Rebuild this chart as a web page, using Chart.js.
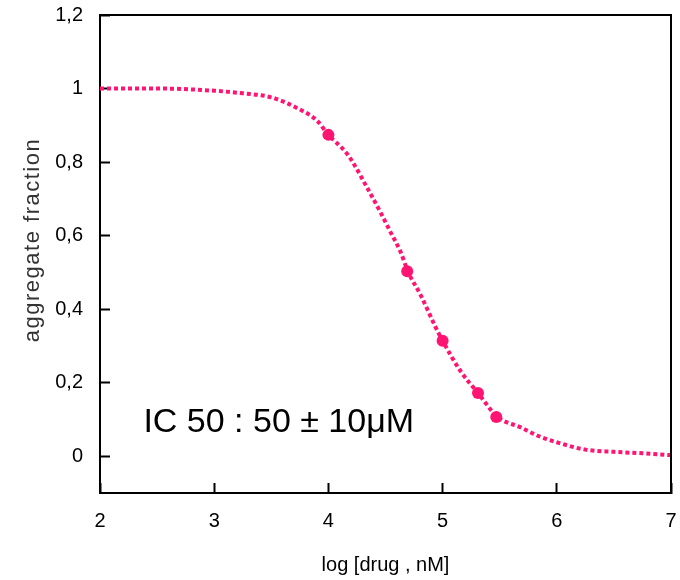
<!DOCTYPE html>
<html>
<head>
<meta charset="utf-8">
<script src="https://cdn.jsdelivr.net/npm/chart.js@4"></script>
<style>
  body { margin: 0; background: #fff; }
  #chart { display: block; }
</style>
</head>
<body>
<canvas id="chart" width="680" height="580"></canvas>
<script>
// fitted curve
const curveX = [2, 2.5, 3, 3.25, 3.5, 3.75, 3.9, 4, 4.17, 4.34, 4.46, 4.54, 4.63, 4.7, 4.81, 4.94, 5, 5.16, 5.31, 5.48, 5.68, 5.84, 6, 6.25, 6.5, 6.75, 7];
const curveY = [1, 1, 0.994, 0.987, 0.976, 0.943, 0.913, 0.874, 0.82, 0.73, 0.661, 0.612, 0.557, 0.5, 0.437, 0.35, 0.314, 0.23, 0.172, 0.107, 0.079, 0.055, 0.038, 0.018, 0.012, 0.008, 0.003];

// measured points
const pointX = [4, 4.69, 5, 5.31, 5.47];
const pointY = [0.874, 0.503, 0.314, 0.172, 0.107];

const xTicks = [2, 3, 4, 5, 6, 7];
const yTicks = [0, 0.2, 0.4, 0.6, 0.8, 1, 1.2];

const yTitle = 'aggregate fraction';
const icLabel = 'IC 50 : 50 \u00b1 10\u03bcM';
const icAt = { x: 2.38, y: 0.066 };

const pink = '#ff1472';
const font = '"Liberation Sans", Arial, sans-serif';

// the tick padding would otherwise push the plot inwards
function noScalePadding(scale) {
  scale.paddingTop = 0;
  scale.paddingBottom = 0;
  scale.paddingLeft = 0;
  scale.paddingRight = 0;
}

// box around the plot, y title and the IC50 note
const framePlugin = {
  id: 'frame',
  afterDraw(chart) {
    const { ctx, chartArea: a, scales } = chart;
    ctx.save();
    ctx.strokeStyle = '#000';
    ctx.lineWidth = 2;
    ctx.beginPath();
    ctx.moveTo(a.left, a.top);
    ctx.lineTo(a.right, a.top);
    ctx.lineTo(a.right, a.bottom);
    ctx.stroke();

    ctx.fillStyle = '#000';
    ctx.font = '34px ' + font;
    ctx.textAlign = 'left';
    ctx.textBaseline = 'alphabetic';
    ctx.fillText(icLabel, scales.x.getPixelForValue(icAt.x), scales.y.getPixelForValue(icAt.y));

    // y title, a bit stretched like the original
    ctx.translate(33, 240);
    ctx.rotate(-Math.PI / 2);
    ctx.fillStyle = '#333';
    ctx.font = '22px ' + font;
    ctx.letterSpacing = '1.5px';
    ctx.textAlign = 'center';
    ctx.textBaseline = 'middle';
    ctx.fillText(yTitle, 0, 0);
    ctx.restore();
  }
};

const ctx = document.getElementById('chart').getContext('2d');

const chart = new Chart(ctx, {
  type: 'scatter',
  data: {
    datasets: [
      {
        label: 'points',
        data: pointX.map((x, i) => ({ x: x, y: pointY[i] })),
        showLine: false,
        pointRadius: 6,
        pointBackgroundColor: pink,
        pointBorderColor: pink,
        pointBorderWidth: 0
      },
      {
        label: 'fit',
        data: curveX.map((x, i) => ({ x: x, y: curveY[i] })),
        showLine: true,
        pointRadius: 0,
        borderColor: pink,
        borderWidth: 4,
        borderDash: [4, 3],
        borderCapStyle: 'butt',
        cubicInterpolationMode: 'monotone',
        fill: false
      }
    ]
  },
  options: {
    responsive: false,
    animation: false,
    layout: {
      autoPadding: false,
      padding: { left: 0, right: 9, top: 15, bottom: 0 }
    },
    plugins: {
      legend: { display: false },
      tooltip: { enabled: false }
    },
    scales: {
      x: {
        type: 'linear',
        position: 'bottom',
        min: 2,
        max: 7,
        afterBuildTicks: (scale) => { scale.ticks = xTicks.map(v => ({ value: v })); },
        afterFit: (scale) => { scale.height = 87; noScalePadding(scale); },
        ticks: {
          color: '#000',
          padding: 26,
          maxRotation: 0,
          font: { size: 20, family: font }
        },
        grid: {
          drawOnChartArea: false,
          drawTicks: true,
          tickLength: -10,
          tickColor: '#000',
          tickWidth: 2
        },
        border: { color: '#000', width: 2 },
        title: {
          display: true,
          text: 'log [drug , nM]',
          color: '#000',
          padding: { top: 0, bottom: 3 },
          font: { size: 20, family: font }
        }
      },
      y: {
        type: 'linear',
        position: 'left',
        min: -0.1,
        max: 1.2,
        afterBuildTicks: (scale) => { scale.ticks = yTicks.map(v => ({ value: v })); },
        afterFit: (scale) => { scale.width = 100; noScalePadding(scale); },
        ticks: {
          color: '#000',
          padding: 27,
          callback: (v) => String(v).replace('.', ','),
          font: { size: 20, family: font }
        },
        grid: {
          drawOnChartArea: false,
          drawTicks: true,
          tickLength: -10,
          tickColor: '#000',
          tickWidth: 2
        },
        border: { color: '#000', width: 2 }
      }
    }
  },
  plugins: [framePlugin]
});
</script>
</body>
</html>
